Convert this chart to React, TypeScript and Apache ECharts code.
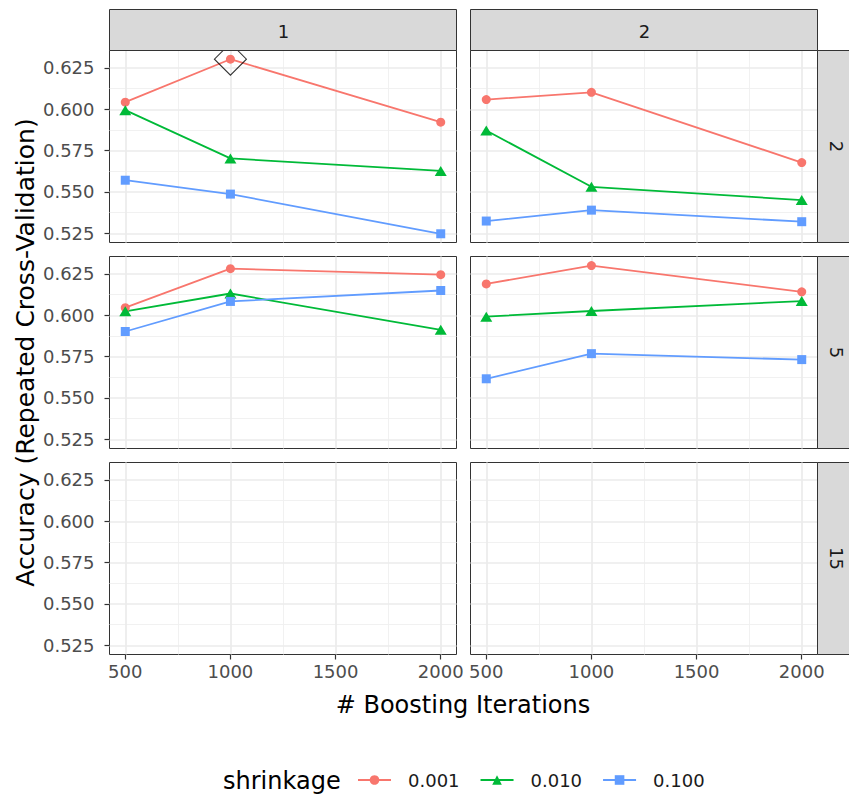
import { useEffect, useRef } from "react";
import * as echarts from "echarts";

// ---------- data ----------
const iterations = [500, 1000, 2000];
const depthLevels = ["1", "2"]; // columns (interaction depth)
const minObsLevels = ["2", "5", "15"]; // rows (min obs in node)
const shrinkageLevels = ["0.001", "0.010", "0.100"];

const xTickValues = [500, 1000, 1500, 2000];
const xMinorValues = [750, 1250, 1750];
const yTickValues = [0.525, 0.55, 0.575, 0.6, 0.625];
const yMinorValues = [0.5375, 0.5625, 0.5875, 0.6125];

const depth1_minobs2_s001 = [0.6043, 0.6303, 0.5922];
const depth1_minobs2_s010 = [0.5995, 0.5703, 0.5627];
const depth1_minobs2_s100 = [0.5571, 0.5487, 0.5247];
const depth2_minobs2_s001 = [0.6059, 0.6103, 0.5678];
const depth2_minobs2_s010 = [0.5872, 0.5531, 0.5451];
const depth2_minobs2_s100 = [0.5324, 0.539, 0.532];
const depth1_minobs5_s001 = [0.6046, 0.6282, 0.6246];
const depth1_minobs5_s010 = [0.6024, 0.6132, 0.5912];
const depth1_minobs5_s100 = [0.5902, 0.6084, 0.615];
const depth2_minobs5_s001 = [0.619, 0.6301, 0.6142];
const depth2_minobs5_s010 = [0.5992, 0.6026, 0.6086];
const depth2_minobs5_s100 = [0.5616, 0.5768, 0.5732];
const depth1_minobs15_s001: number[] = [];
const depth1_minobs15_s010: number[] = [];
const depth1_minobs15_s100: number[] = [];
const depth2_minobs15_s001: number[] = [];
const depth2_minobs15_s010: number[] = [];
const depth2_minobs15_s100: number[] = [];

const bestTune = { depth: "1", minObs: "2", shrinkage: "0.001", iteration: 1000 };

// ---------- styling ----------
const shrinkageColors = ["#F8766D", "#00BA38", "#619CFF"];
const shrinkageSymbols = ["circle", "triangle", "rect"];
const shrinkageSymbolSizes: any[] = [9, [12, 10], 9];
const FONT = "DejaVu Sans";

const colLeft = [109.5, 470.5];
const panelW = 348;
const rowTop = [50.5, 256.5, 462.5];
const panelH = 192;

function buildOption() {
  const panels: Record<string, number[][]> = {
    "1|2": [depth1_minobs2_s001, depth1_minobs2_s010, depth1_minobs2_s100],
    "2|2": [depth2_minobs2_s001, depth2_minobs2_s010, depth2_minobs2_s100],
    "1|5": [depth1_minobs5_s001, depth1_minobs5_s010, depth1_minobs5_s100],
    "2|5": [depth2_minobs5_s001, depth2_minobs5_s010, depth2_minobs5_s100],
    "1|15": [depth1_minobs15_s001, depth1_minobs15_s010, depth1_minobs15_s100],
    "2|15": [depth2_minobs15_s001, depth2_minobs15_s010, depth2_minobs15_s100],
  };
  const allVals = Object.values(panels).flat(2);
  const yLo = Math.min(...allVals);
  const yHi = Math.max(...allVals);
  const yPad = (yHi - yLo) * 0.05;
  const yMin = yLo - yPad;
  const yMax = yHi + yPad;
  const xLo = Math.min(...iterations);
  const xHi = Math.max(...iterations);
  const xPad = (xHi - xLo) * 0.05;
  const xMin = xLo - xPad;
  const xMax = xHi + xPad;

  const grid: any[] = [];
  const xMajor: any[] = [];
  const yMajor: any[] = [];
  const xMinor: any[] = [];
  const yMinor: any[] = [];
  const series: any[] = [];

  minObsLevels.forEach((mo, r) => {
    depthLevels.forEach((dp, c) => {
      const g = r * depthLevels.length + c;
      grid.push({
        left: colLeft[c],
        top: rowTop[r],
        width: panelW - 1,
        height: panelH,
        show: true,
        backgroundColor: "#FFFFFF",
        borderColor: "#333333",
        borderWidth: 1,
      });
      xMajor.push({
        type: "value",
        gridIndex: g,
        min: xMin,
        max: xMax,
        position: "bottom",
        z: 1,
        axisLine: { show: false },
        axisTick: {
          show: r === minObsLevels.length - 1,
          customValues: xTickValues,
          length: 5,
          lineStyle: { color: "#333333", width: 1.2 },
        },
        axisLabel: {
          show: r === minObsLevels.length - 1,
          customValues: xTickValues,
          fontFamily: FONT,
          fontSize: 18,
          color: "#4D4D4D",
          margin: 8,
          formatter: (v: number) => String(v),
        },
        splitLine: { show: true, lineStyle: { color: "#EBEBEB", width: 1.7 } },
      });
      yMajor.push({
        type: "value",
        gridIndex: g,
        min: yMin,
        max: yMax,
        position: "left",
        z: 1,
        axisLine: { show: false },
        axisTick: {
          show: c === 0,
          customValues: yTickValues,
          length: 5,
          lineStyle: { color: "#333333", width: 1.2 },
        },
        axisLabel: {
          show: c === 0,
          customValues: yTickValues,
          fontFamily: FONT,
          fontSize: 18,
          color: "#4D4D4D",
          margin: 15,
          formatter: (v: number) => v.toFixed(3),
        },
        splitLine: { show: true, lineStyle: { color: "#EBEBEB", width: 1.7 } },
      });
      xMinor.push({
        type: "value",
        gridIndex: g,
        min: xMin,
        max: xMax,
        position: "top",
        z: 0,
        axisLine: { show: false },
        axisTick: { show: false, customValues: xMinorValues },
        axisLabel: { show: false },
        splitLine: { show: true, lineStyle: { color: "#EFEFEF", width: 0.9 } },
      });
      yMinor.push({
        type: "value",
        gridIndex: g,
        min: yMin,
        max: yMax,
        position: "right",
        z: 0,
        axisLine: { show: false },
        axisTick: { show: false, customValues: yMinorValues },
        axisLabel: { show: false },
        splitLine: { show: true, lineStyle: { color: "#EFEFEF", width: 0.9 } },
      });
      const vals = panels[`${dp}|${mo}`];
      shrinkageLevels.forEach((s, k) => {
        series.push({
          type: "line",
          name: s,
          xAxisIndex: g,
          yAxisIndex: g,
          data: vals[k].map((v, i) => [iterations[i], v]),
          symbol: shrinkageSymbols[k],
          symbolSize: shrinkageSymbolSizes[k],
          showSymbol: true,
          lineStyle: { color: shrinkageColors[k], width: 1.8 },
          itemStyle: { color: shrinkageColors[k] },
          emphasis: { disabled: true },
          z: 2,
        });
      });
    });
  });

  // best tune diamond
  const bc = depthLevels.indexOf(bestTune.depth);
  const br = minObsLevels.indexOf(bestTune.minObs);
  const bg = br * depthLevels.length + bc;
  const bk = shrinkageLevels.indexOf(bestTune.shrinkage);
  const bi = iterations.indexOf(bestTune.iteration);
  const bestVal = panels[`${bestTune.depth}|${bestTune.minObs}`][bk][bi];
  series.push({
    type: "scatter",
    name: "Best",
    xAxisIndex: bg,
    yAxisIndex: bg,
    data: [[bestTune.iteration, bestVal]],
    symbol: "diamond",
    symbolSize: [32, 32],
    clip: false,
    itemStyle: { color: "rgba(0,0,0,0)", borderColor: "#000000", borderWidth: 1.1 },
    emphasis: { disabled: true },
    z: 4,
  });

  const graphic: any[] = [];
  depthLevels.forEach((dp, c) => {
    graphic.push({
      type: "rect",
      z: 100,
      shape: { x: colLeft[c], y: 9.5, width: panelW - 1, height: rowTop[0] - 9.5 },
      style: { fill: "#D9D9D9", stroke: "#333333", lineWidth: 1 },
    });
    graphic.push({
      type: "text",
      z: 101,
      x: colLeft[c] + panelW / 2,
      y: 31,
      style: {
        text: dp,
        fontFamily: FONT,
        fontSize: 18,
        fill: "#1A1A1A",
        align: "center",
        verticalAlign: "middle",
      },
    });
  });
  minObsLevels.forEach((mo, r) => {
    graphic.push({
      type: "rect",
      z: 100,
      shape: { x: colLeft[1] + panelW - 1, y: rowTop[r], width: 40, height: panelH },
      style: { fill: "#D9D9D9", stroke: "#333333", lineWidth: 1 },
    });
    graphic.push({
      type: "text",
      z: 101,
      x: 836,
      y: rowTop[r] + panelH / 2,
      rotation: -Math.PI / 2,
      style: {
        text: mo,
        fontFamily: FONT,
        fontSize: 18,
        fill: "#1A1A1A",
        align: "center",
        verticalAlign: "middle",
      },
    });
  });
  graphic.push({
    type: "text",
    z: 101,
    x: 25,
    y: (rowTop[0] + rowTop[2] + panelH) / 2,
    rotation: Math.PI / 2,
    style: {
      text: "Accuracy (Repeated Cross-Validation)",
      fontFamily: FONT,
      fontSize: 25,
      fill: "#000000",
      align: "center",
      verticalAlign: "middle",
    },
  });
  graphic.push({
    type: "text",
    z: 101,
    x: 463,
    y: 705,
    style: {
      text: "# Boosting Iterations",
      fontFamily: FONT,
      fontSize: 24,
      fill: "#000000",
      align: "center",
      verticalAlign: "middle",
    },
  });
  graphic.push({
    type: "text",
    z: 101,
    x: 223,
    y: 781,
    style: {
      text: "shrinkage",
      fontFamily: FONT,
      fontSize: 24,
      fill: "#000000",
      align: "left",
      verticalAlign: "middle",
    },
  });

  return {
    animation: false,
    backgroundColor: "#FFFFFF",
    textStyle: { fontFamily: FONT },
    grid,
    xAxis: [...xMajor, ...xMinor],
    yAxis: [...yMajor, ...yMinor],
    legend: {
      data: shrinkageLevels,
      left: 357,
      top: 771,
      padding: 0,
      itemWidth: 33,
      itemHeight: 12,
      itemGap: 20,
      selectedMode: false,
      textStyle: {
        fontFamily: FONT,
        fontSize: 18,
        color: "#1A1A1A",
        padding: [0, 0, 0, 12],
      },
    },
    series,
    graphic,
  };
}

export default function App() {
  const ref = useRef<HTMLDivElement>(null);
  useEffect(() => {
    if (!ref.current) return;
    const chart = echarts.init(ref.current, undefined, { renderer: "svg" });
    chart.setOption(buildOption());
    return () => chart.dispose();
  }, []);
  return (
    <div
      ref={ref}
      style={{ position: "absolute", left: 0, top: 0, width: 849, height: 794, background: "#FFFFFF" }}
    />
  );
}
